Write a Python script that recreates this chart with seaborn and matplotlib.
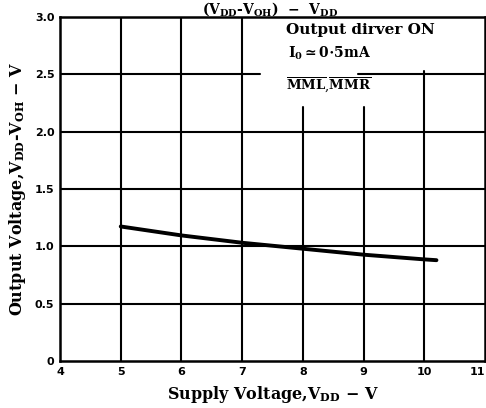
import matplotlib
matplotlib.use("Agg")
import matplotlib.pyplot as plt
import seaborn as sns
import pandas as pd

# supply voltage (V) vs VDD-VOH (V)
vdd = [5.0, 6.0, 7.0, 8.0, 9.0, 10.0, 10.2]
vout = [1.174, 1.096, 1.032, 0.98, 0.928, 0.887, 0.88]

x_ticks = [4, 5, 6, 7, 8, 9, 10, 11]
y_ticks = [0, 0.5, 1.0, 1.5, 2.0, 2.5, 3.0]
y_tick_labels = ["0", "0.5", "1.0", "1.5", "2.0", "2.5", "3.0"]

sns.set_style("white")
plt.rcParams["font.family"] = ["DejaVu Serif"]
plt.rcParams["mathtext.fontset"] = "custom"
plt.rcParams["mathtext.rm"] = "DejaVu Serif:bold"
plt.rcParams["mathtext.bf"] = "DejaVu Serif:bold"
plt.rcParams["text.color"] = "black"
plt.rcParams["axes.labelcolor"] = "black"
plt.rcParams["xtick.color"] = "black"
plt.rcParams["ytick.color"] = "black"

df = pd.DataFrame({"vdd": vdd, "vout": vout})

fig = plt.figure(figsize=(4.86, 4.08), dpi=100)
ax = fig.add_axes([0.1235, 0.115, 0.8745, 0.843])

# grid drawn by hand since parts of it are cut by the annotation
lw = 1.5
for xv in [5, 6, 7]:
    ax.axvline(xv, color="black", lw=lw, zorder=1)
for xv in [8, 9]:
    ax.axvline(xv, ymax=2.22 / 3.0, color="black", lw=lw, zorder=1)
ax.axvline(10, ymax=2.53 / 3.0, color="black", lw=lw, zorder=1)
for yv in [0.5, 1.0, 1.5, 2.0]:
    ax.axhline(yv, color="black", lw=lw, zorder=1)
ax.axhline(2.5, xmax=(7.3 - 4) / 7, color="black", lw=lw, zorder=1)
ax.axhline(2.5, xmin=(8.9 - 4) / 7, color="black", lw=lw, zorder=1)

sns.lineplot(data=df, x="vdd", y="vout", color="black", lw=2.8, ax=ax, zorder=3)

ax.set_xlim(4, 11)
ax.set_ylim(0, 3.0)
ax.set_xticks(x_ticks)
ax.set_yticks(y_ticks)
ax.set_yticklabels(y_tick_labels)
ax.tick_params(length=0, pad=4)
for lab in ax.get_xticklabels() + ax.get_yticklabels():
    lab.set_family("DejaVu Sans")
    lab.set_fontweight("bold")
    lab.set_fontsize(8)
ax.get_xticklabels()[-1].set_ha("right")

for s in ax.spines.values():
    s.set_color("black")
    s.set_linewidth(1.8)

ax.set_xlabel(r"Supply Voltage,V$_{\rm DD}$ $-$ V", fontsize=11.5,
              fontweight="bold", labelpad=5)
ax.set_ylabel(r"Output Voltage,V$_{\rm DD}$-V$_{\rm OH}$ $-$ V", fontsize=11.5,
              fontweight="bold", labelpad=5)

ax.text(7.72, 2.85, "Output dirver ON", fontsize=11, fontweight="bold")
ax.text(7.75, 2.65, r"I$_{\rm 0}$$\simeq$0$\cdot$5mA", fontsize=10,
        fontweight="bold")
ax.text(7.72, 2.37, r"$\overline{\rm MML}$,$\overline{\rm MMR}$", fontsize=9.5)

fig.text(0.555, 1.0, r"(V$_{\rm DD}$-V$_{\rm OH}$)  $-$  V$_{\rm DD}$",
         ha="center", va="top", fontsize=10, fontweight="bold")

fig.savefig("out.png", dpi=100)
